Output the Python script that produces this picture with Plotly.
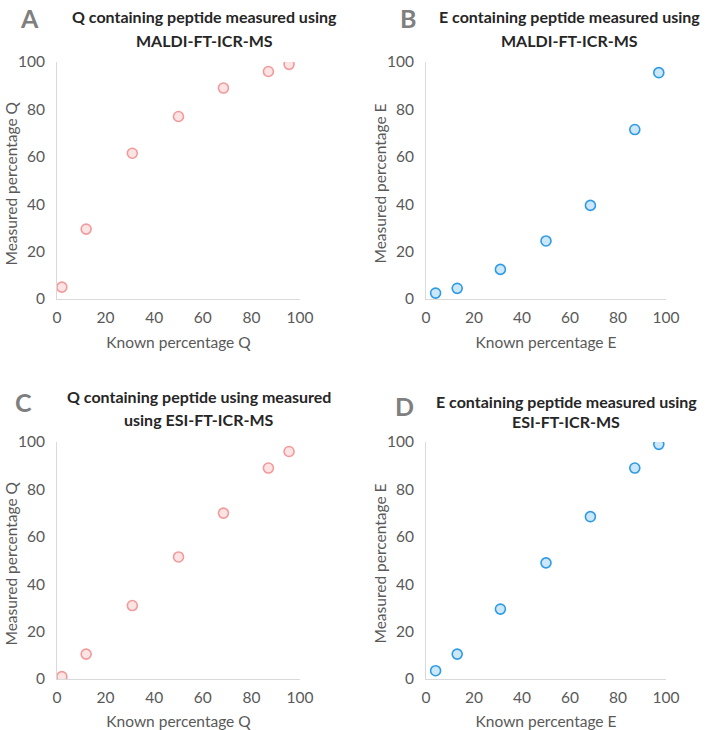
import plotly.graph_objects as go

# known vs measured percentages
known_q = [2, 12, 31, 50, 68.5, 87, 95.5]
known_e = [4, 13, 31, 50, 68.5, 87, 97]

measured_q_maldi = [5, 29.5, 61.5, 77, 89, 96, 99]
measured_e_maldi = [2.5, 4.5, 12.5, 24.5, 39.5, 71.5, 95.5]
measured_q_esi = [1, 10.5, 31, 51.5, 70, 89, 96]
measured_e_esi = [3.5, 10.5, 29.5, 49, 68.5, 89, 99]

tick_vals = [0, 20, 40, 60, 80, 100]

W, H = 709, 730
FONT = "Lato, 'Open Sans', sans-serif"
GREY = "#595959"

PINK = dict(color="#fde4e4", line=dict(color="#f29a9a", width=1.6))
BLUE = dict(color="#cde7fa", line=dict(color="#2f9be3", width=1.6))


def px(x, y):
    return x / W, 1 - y / H


# panel: letter, title lines, data, axis titles, marker, plot box px [x0, x1, ytop, ybottom],
# letter centre, title (centre x, line y's)
panels = [
    ("A", ["Q containing peptide measured using", "MALDI-FT-ICR-MS"],
     known_q, measured_q_maldi, "Known percentage Q", "Measured percentage Q", PINK,
     [57, 300, 62, 299], (30, 18), (204, 17, 40)),
    ("B", ["E containing peptide measured using", "MALDI-FT-ICR-MS"],
     known_e, measured_e_maldi, "Known percentage E", "Measured percentage E", BLUE,
     [426, 666, 62, 299], (408, 18), (569, 17, 40)),
    ("C", ["Q containing peptide using measured", "using ESI-FT-ICR-MS"],
     known_q, measured_q_esi, "Known percentage Q", "Measured percentage Q", PINK,
     [57, 300, 442, 679], (23, 402), (199, 396, 419)),
    ("D", ["E containing peptide measured using", "ESI-FT-ICR-MS"],
     known_e, measured_e_esi, "Known percentage E", "Measured percentage E", BLUE,
     [426, 666, 442, 679], (404, 406), (566, 401, 421)),
]

fig = go.Figure()

for i, (letter, title, xs, ys, xt, yt, mk, box, lpos, tpos) in enumerate(panels, start=1):
    sfx = "" if i == 1 else str(i)
    fig.add_trace(go.Scatter(
        x=xs, y=ys, mode="markers", showlegend=False,
        marker=dict(size=10, symbol="circle", **mk),
        xaxis="x" + sfx, yaxis="y" + sfx,
    ))
    x0, x1, ytop, ybot = box
    dx0, dy0 = px(x0, ybot)
    dx1, dy1 = px(x1, ytop)
    axis_common = dict(
        range=[0, 100], tickvals=tick_vals, showgrid=False, zeroline=False,
        showline=True, linecolor="#d9d9d9", linewidth=1, ticks="",
        automargin=False,
        tickfont=dict(family=FONT, size=15.5, color=GREY),
        title_font=dict(family=FONT, size=15.5, color=GREY),
    )
    fig.update_layout(**{
        "xaxis" + sfx: dict(axis_common, domain=[dx0, dx1],
                            anchor="y" + sfx, title_text=xt, title_standoff=12,
                            ticklabelstandoff=4),
        "yaxis" + sfx: dict(axis_common, domain=[dy0, dy1],
                            anchor="x" + sfx, ticklabelstandoff=8),
    })
    # y axis title placed by hand so it sits as close to the labels as in the original
    yx, yy = px(x0 - 47, (ytop + ybot) / 2 + 3)
    fig.add_annotation(text=yt, x=yx, y=yy, xref="paper", yref="paper",
                       showarrow=False, textangle=-90,
                       xanchor="center", yanchor="middle",
                       font=dict(family=FONT, size=15.5, color=GREY))
    lx, ly = px(*lpos)
    fig.add_annotation(text=f"<b>{letter}</b>", x=lx, y=ly,
                       xref="paper", yref="paper", showarrow=False,
                       xanchor="center", yanchor="middle",
                       font=dict(family=FONT, size=25, color="#7f7f7f"))
    for line, ty in zip(title, tpos[1:]):
        tx, tyy = px(tpos[0], ty)
        fig.add_annotation(text=f"<b>{line}</b>", x=tx, y=tyy,
                           xref="paper", yref="paper", showarrow=False,
                           xanchor="center", yanchor="middle",
                           font=dict(family=FONT, size=16, color="#262626"))

fig.update_layout(
    width=W, height=H,
    margin=dict(l=0, r=0, t=0, b=0),
    plot_bgcolor="white", paper_bgcolor="white",
)

# drop the browser's default body margin so the figure fills the window exactly
fig.write_html("out.html", config={"displayModeBar": False},
               post_script="document.body.style.margin = '0';")
